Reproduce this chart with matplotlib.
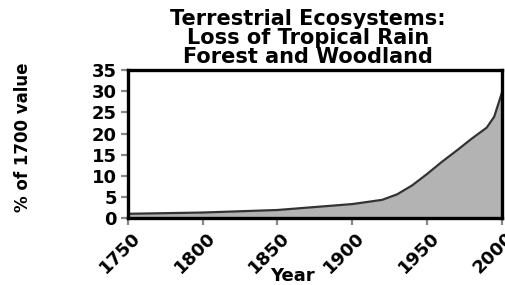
import matplotlib
matplotlib.use("Agg")
import matplotlib.pyplot as plt
import matplotlib.transforms as mtransforms

# Loss of tropical rain forest and woodland (% of 1700 value)
years = [1750, 1800, 1850, 1900, 1920, 1930, 1940, 1950, 1960, 1970, 1980, 1990, 1995, 2000]
loss = [1.0, 1.3, 1.9, 3.3, 4.3, 5.6, 7.7, 10.4, 13.3, 16.0, 18.8, 21.4, 24.0, 29.5]

xticks = [1750, 1800, 1850, 1900, 1950, 2000]
yticks = [0, 5, 10, 15, 20, 25, 30, 35]

fig = plt.figure(figsize=(5.05, 2.85), dpi=100)
ax = fig.add_axes([0.2535, 0.235, 0.74, 0.519])

ax.fill_between(years, loss, 0, color="#b3b3b3", lw=0)
ax.plot(years, loss, color="#333333", lw=1.6)

ax.set_xlim(1750, 2000)
ax.set_ylim(0, 35)
ax.set_xticks(xticks)
ax.set_yticks(yticks)

for s in ax.spines.values():
    s.set_linewidth(2.4)
    s.set_color("black")

ax.tick_params(axis="both", direction="out", length=5, width=1.6, color="#888888",
               labelsize=13, pad=3)
for lab in ax.get_yticklabels():
    lab.set_fontweight("heavy")
offset = mtransforms.ScaledTranslation(0.16, 0, fig.dpi_scale_trans)
for lab in ax.get_xticklabels():
    lab.set_rotation(45)
    lab.set_ha("right")
    lab.set_fontweight("heavy")
    lab.set_transform(lab.get_transform() + offset)

fig.text(0.61, 0.97, "Terrestrial Ecosystems:\nLoss of Tropical Rain\nForest and Woodland",
         ha="center", va="top", fontsize=15, fontweight="heavy", linespacing=0.95)
fig.text(0.045, 0.52, "% of 1700 value", rotation=90, ha="center", va="center",
         fontsize=12, fontweight="heavy")
fig.text(0.58, 0.03, "Year", ha="center", va="center", fontsize=13, fontweight="heavy")

fig.savefig("out.png", dpi=100)
